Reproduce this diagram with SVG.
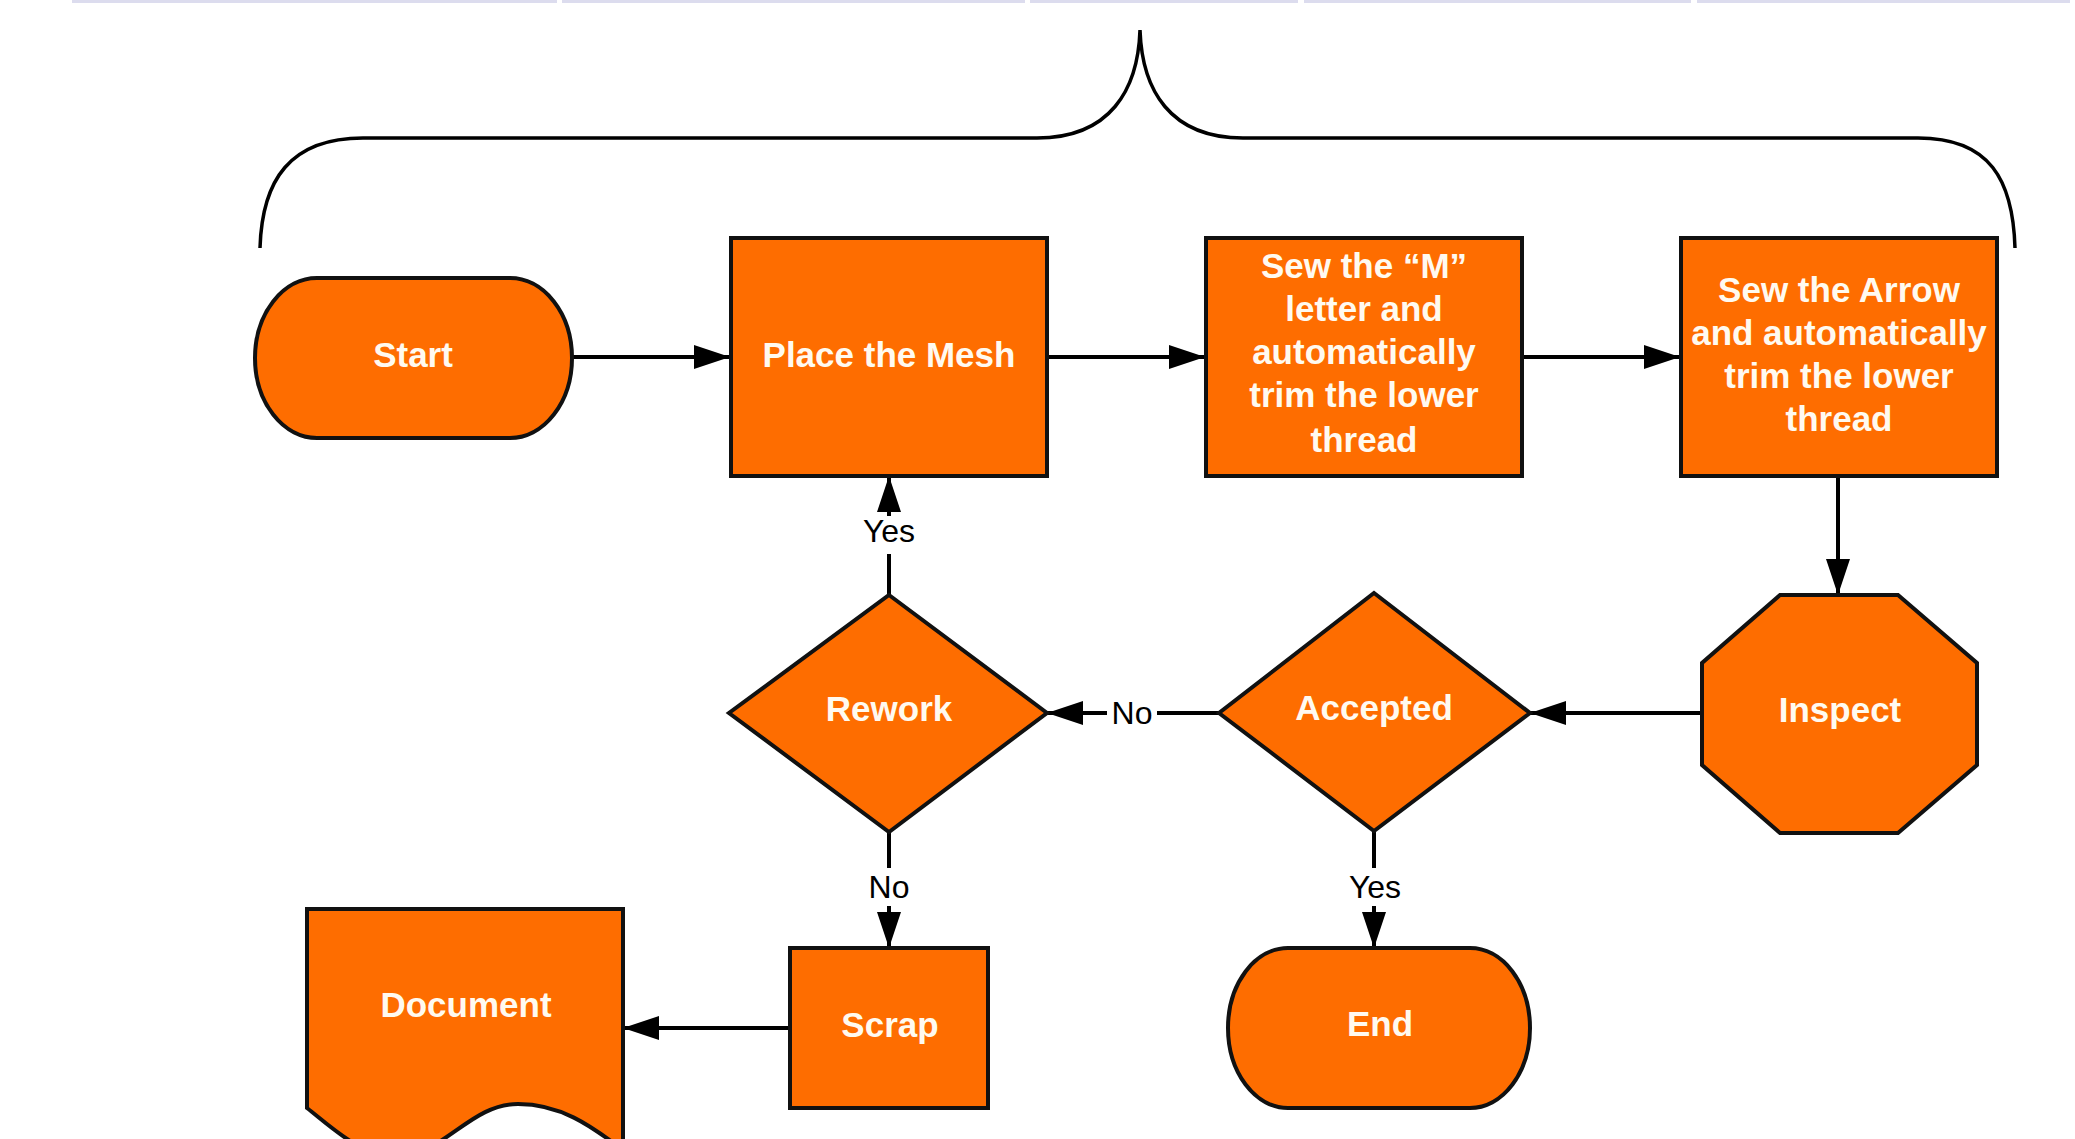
<svg xmlns="http://www.w3.org/2000/svg" width="2075" height="1139" viewBox="0 0 2075 1139">
<defs>
<style>
.node{fill:#fe6d00;stroke:#111;stroke-width:4;stroke-linejoin:miter}
.lbl{font-family:"Liberation Sans",Arial,sans-serif;font-weight:bold;font-size:35px;fill:#fffaf0;text-anchor:middle}
.edge{fill:none;stroke:#000;stroke-width:4}
.elbl{font-family:"Liberation Sans",Arial,sans-serif;font-size:32px;fill:#000;text-anchor:middle}
.bg{fill:#fff}
.brace{fill:none;stroke:#000;stroke-width:3.5}
.strip{fill:#dcdcee}
</style>
<marker id="arr" markerUnits="userSpaceOnUse" markerWidth="36" markerHeight="24" refX="36" refY="12" orient="auto">
<path d="M0,0 L36,12 L0,24 Z" fill="#000"/>
</marker>
</defs>
<rect width="2075" height="1139" fill="#fff"/>
<g id="top-strip">
<rect class="strip" x="72" y="0" width="485" height="3"/>
<rect class="strip" x="562" y="0" width="463" height="3"/>
<rect class="strip" x="1030" y="0" width="268" height="3"/>
<rect class="strip" x="1304" y="0" width="387" height="3"/>
<rect class="strip" x="1697" y="0" width="373" height="3"/>
</g>
<g id="brace">
<path class="brace" d="M260,248 C262,180 290,138 363,138 L1037,138 C1110,138 1138,90 1140,30 C1142,90 1170,138 1243,138 L1918,138 C1990,138 2013,180 2015,248"/>
</g>
<g id="connectors">
<path class="edge" d="M572,357 L730,357" marker-end="url(#arr)"/>
<path class="edge" d="M1047,357 L1205,357" marker-end="url(#arr)"/>
<path class="edge" d="M1522,357 L1680,357" marker-end="url(#arr)"/>
<path class="edge" d="M1838,476 L1838,595" marker-end="url(#arr)"/>
<path class="edge" d="M1702,713 L1530,713" marker-end="url(#arr)"/>
<path class="edge" d="M1219,713 L1047,713" marker-end="url(#arr)"/>
<path class="edge" d="M889,595 L889,476" marker-end="url(#arr)"/>
<path class="edge" d="M1374,831 L1374,948" marker-end="url(#arr)"/>
<path class="edge" d="M889,832 L889,948" marker-end="url(#arr)"/>
<path class="edge" d="M790,1028 L623,1028" marker-end="url(#arr)"/>
<rect class="bg" x="862" y="516" width="54" height="38"/>
<text class="elbl" x="889" y="542">Yes</text>
<rect class="bg" x="1107" y="692" width="50" height="38"/>
<text class="elbl" x="1132" y="724">No</text>
<rect class="bg" x="866" y="868" width="46" height="38"/>
<text class="elbl" x="889" y="898">No</text>
<rect class="bg" x="1347" y="868" width="56" height="38"/>
<text class="elbl" x="1375" y="898">Yes</text>
</g>
<g id="start">
<rect class="node" x="255" y="278" width="317" height="160" rx="62" ry="80"/>
<text class="lbl" x="413" y="367">Start</text>
</g>
<g id="place-mesh">
<rect class="node" x="731" y="238" width="316" height="238"/>
<text class="lbl" x="889" y="367">Place the Mesh</text>
</g>
<g id="sew-m">
<rect class="node" x="1206" y="238" width="316" height="238"/>
<text class="lbl" x="1364" y="278">Sew the “M”</text>
<text class="lbl" x="1364" y="321">letter and</text>
<text class="lbl" x="1364" y="364">automatically</text>
<text class="lbl" x="1364" y="407">trim the lower</text>
<text class="lbl" x="1364" y="452">thread</text>
</g>
<g id="sew-arrow">
<rect class="node" x="1681" y="238" width="316" height="238"/>
<text class="lbl" x="1839" y="302">Sew the Arrow</text>
<text class="lbl" x="1839" y="345">and automatically</text>
<text class="lbl" x="1839" y="388">trim the lower</text>
<text class="lbl" x="1839" y="431">thread</text>
</g>
<g id="inspect">
<polygon class="node" points="1780,595 1898,595 1977,663 1977,765 1898,833 1780,833 1702,765 1702,663"/>
<text class="lbl" x="1840" y="722">Inspect</text>
</g>
<g id="accepted">
<polygon class="node" points="1374,593 1530,713 1374,831 1219,713"/>
<text class="lbl" x="1374" y="720">Accepted</text>
</g>
<g id="rework">
<polygon class="node" points="889,595 1047,713 889,832 729,713"/>
<text class="lbl" x="889" y="721">Rework</text>
</g>
<g id="end">
<rect class="node" x="1228" y="948" width="302" height="160" rx="60" ry="80"/>
<text class="lbl" x="1380" y="1036">End</text>
</g>
<g id="scrap">
<rect class="node" x="790" y="948" width="198" height="160"/>
<text class="lbl" x="890" y="1037">Scrap</text>
</g>
<g id="document">
<path class="node" d="M307,909 L623,909 L623,1150 C590,1125 560,1104 518,1104 C475,1104 450,1145 410,1155 C370,1165 335,1130 307,1108 Z"/>
<text class="lbl" x="466" y="1017">Document</text>
</g>
</svg>
